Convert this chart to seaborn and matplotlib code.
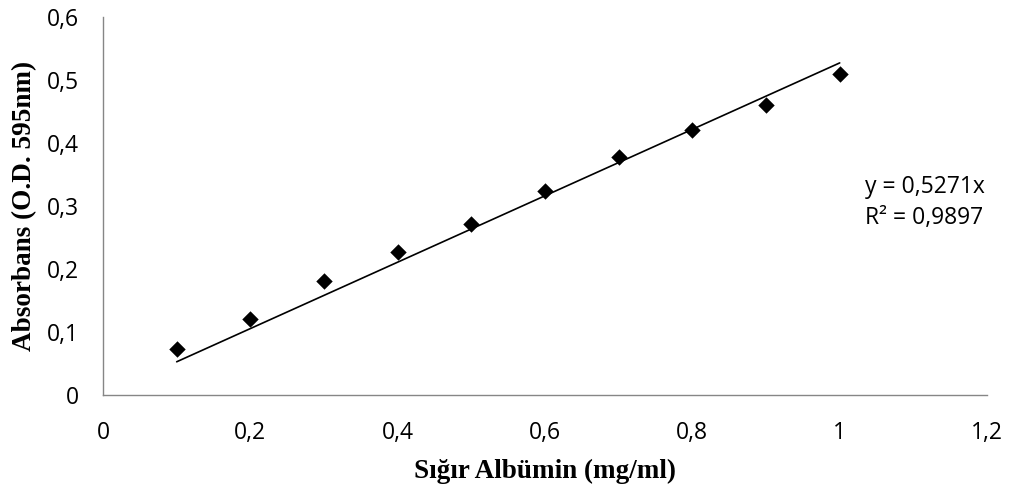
import matplotlib
matplotlib.use("Agg")
import matplotlib.pyplot as plt
import seaborn as sns
import numpy as np
import pandas as pd
from matplotlib.ticker import FuncFormatter

concentration = [0.1, 0.2, 0.3, 0.4, 0.5, 0.6, 0.7, 0.8, 0.9, 1.0]
absorbance = [0.073, 0.121, 0.181, 0.227, 0.271, 0.323, 0.378, 0.420, 0.460, 0.510]
slope = 0.5271
r_squared = 0.9897
x_ticks = [0, 0.2, 0.4, 0.6, 0.8, 1.0, 1.2]
y_ticks = [0, 0.1, 0.2, 0.3, 0.4, 0.5, 0.6]

sns.set_theme(style="white")
plt.rcParams['font.family'] = ['Open Sans', 'DejaVu Sans']
plt.rcParams['text.color'] = 'black'
plt.rcParams['axes.labelcolor'] = 'black'

df = pd.DataFrame({"x": concentration, "y": absorbance})
trend = pd.DataFrame({"x": [concentration[0], concentration[-1]]})
trend["y"] = slope * trend["x"]

fig = plt.figure(figsize=(10.16, 4.88), dpi=100)
ax = fig.add_axes([0.1014, 0.1906, 0.8701, 0.7746])

sns.lineplot(data=trend, x="x", y="y", ax=ax, color="black", linewidth=1.2)
sns.scatterplot(data=df, x="x", y="y", ax=ax, marker="D", s=70, color="black",
                edgecolor="black", linewidth=0, zorder=3)

ax.set_xlim(0, 1.2)
ax.set_ylim(0, 0.6)
ax.set_xticks(x_ticks)
ax.set_yticks(y_ticks)
fmt = FuncFormatter(lambda v, p: ("%g" % round(v, 2)).replace(".", ","))
ax.xaxis.set_major_formatter(fmt)
ax.yaxis.set_major_formatter(fmt)

for s in ["top", "right"]:
    ax.spines[s].set_visible(False)
for s in ["left", "bottom"]:
    ax.spines[s].set_color("#868686")
    ax.spines[s].set_linewidth(1.0)
ax.tick_params(axis="both", which="major", direction="out", length=4.5, width=1,
               color="#868686", labelsize=16.5, labelcolor="black")
ax.tick_params(axis="x", pad=14)
ax.tick_params(axis="y", pad=13)

ax.set_xlabel("Sığır Albümin (mg/ml)", fontfamily="Liberation Serif",
              fontweight="bold", fontsize=19.5, labelpad=10, color="black")
ax.set_ylabel("Absorbans (O.D. 595nm)", fontfamily="Liberation Serif",
              fontweight="bold", fontsize=19.5, labelpad=7, color="black")

ax.text(1.034, 0.330, f"y = {str(slope).replace('.', ',')}x", fontsize=16.5,
        ha="left", va="center", color="black")
ax.text(1.034, 0.281, f"R² = {str(r_squared).replace('.', ',')}", fontsize=16.5,
        ha="left", va="center", color="black")

fig.savefig("out.png", dpi=100)
